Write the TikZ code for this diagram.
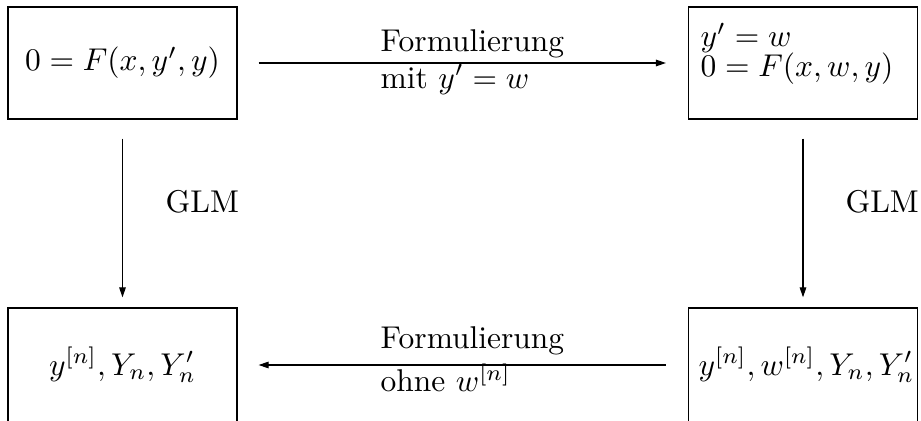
\documentclass[tikz,border=0pt]{standalone}
\usetikzlibrary{arrows.meta}
\begin{document}
\begin{tikzpicture}[x=0.3175pt,y=-0.3175pt,
  boxtop/.style={draw,line width=0.4pt,inner sep=0pt,minimum width=72.7pt,minimum height=35.56pt},
  boxbot/.style={draw,line width=0.4pt,inner sep=0pt,minimum width=72.7pt,minimum height=36.2pt},
  arr/.style={line width=0.4pt,-{Triangle[length=3.2pt,width=2.1pt]}},
  lbl/.style={inner sep=0pt,anchor=base west}]
\clip (0,0) rectangle (921,421);
\node[boxtop] (tl) at (122.5,63) {$0=F(x,y',y)$};
\node[boxtop] (tr) at (803,63) {\raisebox{2.86pt}[\height][\depth]{\hspace*{-3.8pt}\begin{tabular}{@{}l@{}}$y'=w$\\[-2.5pt]$0=F(x,w,y)$\end{tabular}}};
\node[boxbot] (bl) at (122.5,365) {$y^{[n]},Y_n,Y'_n$};
\node[boxbot] (br) at (803,365) {\hspace*{2.2pt}$y^{[n]},w^{[n]},Y_n,Y'_n$};
\draw[arr,shorten <=6.67pt,shorten >=6.98pt] (tl.east) -- (tr.west)
  node[lbl,pos=0.3164,yshift=3.6pt] (f1) {Formulierung}
  node[lbl,pos=0.3164,yshift=-8pt] (f2) {mit $y'=w$};
\draw[arr,shorten <=6.98pt,shorten >=6.67pt] (br.west) -- (bl.east)
  node[lbl,pos=0.6836,yshift=5.2pt] (f3) {Formulierung}
  node[lbl,pos=0.6836,yshift=-8.5pt] (f4) {ohne $w^{[n]}$};
\draw[arr,shorten <=6.03pt,shorten >=3.18pt] (tl.south) -- (bl.north)
  node[inner sep=0pt,anchor=west,pos=0.4375,xshift=13.5pt] (g1) {GLM};
\draw[arr,shorten <=6.03pt,shorten >=3.18pt] (tr.south) -- (br.north)
  node[inner sep=0pt,anchor=west,pos=0.4375,xshift=13.3pt] (g2) {GLM};
\end{tikzpicture}
\end{document}
